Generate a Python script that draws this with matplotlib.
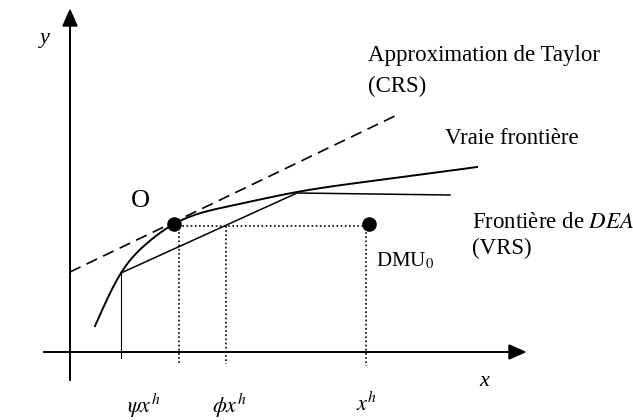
import matplotlib
matplotlib.use("Agg")
import matplotlib.pyplot as plt
import numpy as np

# Schematic coordinates (canvas units, y grows downward)
origin = (70, 352)
x_axis_end = 525
y_axis_top = 10

# True frontier (smooth concave curve)
true_x = [95, 121, 145, 174, 230, 297, 380, 477]
true_y = [326, 273, 245, 224, 206, 192, 180, 167]

# DEA (VRS) piecewise-linear frontier
dea_x = [121, 297, 450]
dea_y = [273, 193, 195]

# Taylor approximation (CRS) tangent ray
crs_x = [70, 397]
crs_y = [272, 115]

# Observed units
point_O = (174, 224)
point_dmu = (369, 224)

# Projection positions on the x axis
psi_x, phi_x, xh_x = 179, 226, 366
kink_x = 121

FONT = ["Liberation Serif", "DejaVu Serif"]
plt.rcParams["font.family"] = FONT
plt.rcParams["mathtext.fontset"] = "stix"


def natural_spline(xs, ys, n=400):
    """Natural cubic spline through the given knots."""
    x = np.asarray(xs, float)
    y = np.asarray(ys, float)
    k = len(x)
    h = np.diff(x)
    A = np.zeros((k, k))
    b = np.zeros(k)
    A[0, 0] = A[-1, -1] = 1
    for i in range(1, k - 1):
        A[i, i - 1] = h[i - 1]
        A[i, i] = 2 * (h[i - 1] + h[i])
        A[i, i + 1] = h[i]
        b[i] = 6 * ((y[i + 1] - y[i]) / h[i] - (y[i] - y[i - 1]) / h[i - 1])
    M = np.linalg.solve(A, b)
    xx = np.linspace(x[0], x[-1], n)
    idx = np.clip(np.searchsorted(x, xx) - 1, 0, k - 2)
    x0, x1 = x[idx], x[idx + 1]
    hh = x1 - x0
    a = (x1 - xx) / hh
    c = (xx - x0) / hh
    yy = (a * y[idx] + c * y[idx + 1]
          + ((a ** 3 - a) * M[idx] + (c ** 3 - c) * M[idx + 1]) * hh ** 2 / 6)
    return xx, yy


fig = plt.figure(figsize=(6.33, 4.2), dpi=100)
ax = fig.add_axes([0, 0, 1, 1])
ax.set_xlim(0, 633)
ax.set_ylim(420, 0)
ax.axis("off")

# Axes with arrowheads
ax.plot([origin[0], origin[0]], [380, y_axis_top + 14], color="black", lw=1.4)
ax.plot([44, x_axis_end - 14], [origin[1], origin[1]], color="black", lw=1.4)
ax.fill([origin[0] - 7, origin[0] + 7, origin[0]],
        [y_axis_top + 16, y_axis_top + 16, y_axis_top], color="black")
ax.fill([x_axis_end - 16, x_axis_end - 16, x_axis_end],
        [origin[1] - 7, origin[1] + 7, origin[1]], color="black")

# Frontiers
cx, cy = natural_spline(true_x, true_y)
ax.plot(cx, cy, color="black", lw=1.4)
ax.plot(dea_x, dea_y, color="black", lw=1.1)
ax.plot(crs_x, crs_y, color="black", lw=1.2, dashes=(7, 4))

# Projection lines
dot = (0, (1, 1.5))
ax.plot([point_O[0], point_dmu[0]], [226, 226], color="black", lw=1.2, ls=dot)
ax.plot([psi_x, psi_x], [228, 364], color="black", lw=1.2, ls=dot)
ax.plot([phi_x, phi_x], [226, 364], color="black", lw=1.2, ls=dot)
ax.plot([xh_x, xh_x], [228, 366], color="black", lw=1.2, ls=dot)
ax.plot([kink_x, kink_x], [273, 358], color="black", lw=0.8)

# Points
ax.plot(*point_O, "o", color="black", ms=9.5)
ax.plot(*point_dmu, "o", color="black", ms=9.5)

# Labels
ax.text(45, 38, "y", fontsize=16, style="italic", ha="center", va="center")
ax.text(484, 382, "x", fontsize=16, style="italic", ha="center", va="center")
ax.text(140, 201, "O", fontsize=19, ha="center", va="center")
ax.text(368, 56, "Approximation de Taylor", fontsize=16.5, ha="left", va="center")
ax.text(368, 86, "(CRS)", fontsize=16.5, ha="left", va="center")
ax.text(445, 138, "Vraie frontière", fontsize=16.5, ha="left", va="center")
ax.text(472, 222, "Frontière de $\\it{DEA}$", fontsize=16.5, ha="left", va="center")
ax.text(472, 248, "(VRS)", fontsize=16.5, ha="left", va="center")
ax.text(376, 261, "DMU$_0$", fontsize=15, ha="left", va="center")
ax.text(144, 406, "$\\psi x^h$", fontsize=16, ha="center", va="center")
ax.text(229, 406, "$\\phi x^h$", fontsize=16, ha="center", va="center")
ax.text(367, 404, "$x^h$", fontsize=16, ha="center", va="center")

fig.savefig("out.png", dpi=100)
